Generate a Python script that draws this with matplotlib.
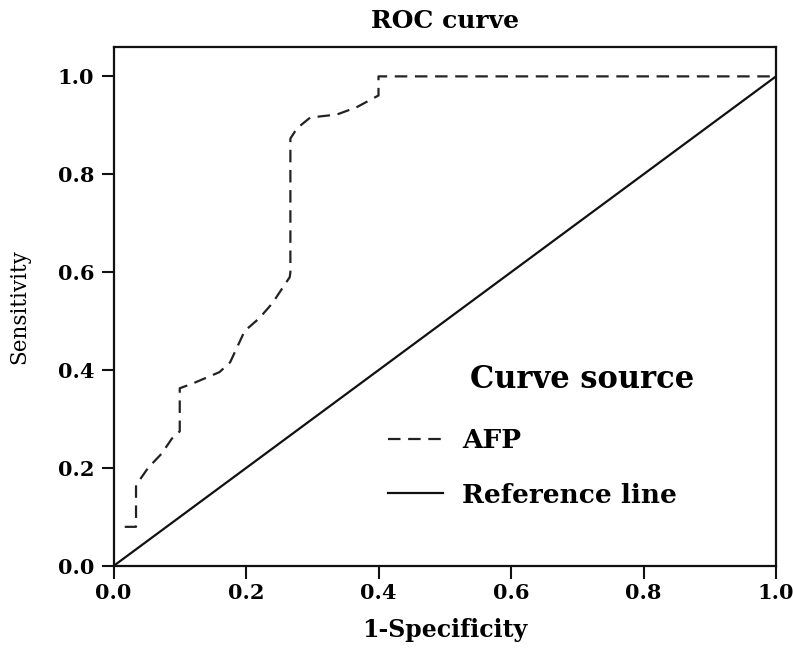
import matplotlib
matplotlib.use("Agg")
import matplotlib.pyplot as plt

# Data
afp_x = [0.017, 0.034, 0.034, 0.052, 0.073, 0.088, 0.100, 0.100, 0.120, 0.160, 0.176,
         0.198, 0.220, 0.240, 0.266, 0.267, 0.267, 0.277, 0.297, 0.337, 0.367, 0.400, 0.400, 1.000]
afp_y = [0.080, 0.080, 0.165, 0.200, 0.230, 0.260, 0.275, 0.363, 0.373, 0.396, 0.416,
         0.480, 0.506, 0.537, 0.590, 0.600, 0.873, 0.894, 0.916, 0.922, 0.937, 0.961, 1.000, 1.000]
ref_x = [0.0, 1.0]
ref_y = [0.0, 1.0]
ticks = [0.0, 0.2, 0.4, 0.6, 0.8, 1.0]
tick_labels = ["0.0", "0.2", "0.4", "0.6", "0.8", "1.0"]

plt.rcParams['lines.scale_dashes'] = False
serif = ['DejaVu Serif']

fig = plt.figure(figsize=(7.93, 6.48), dpi=100)
ax = fig.add_axes([113.5/793, 1-566/648, (776-113.5)/793, (566-47)/648])

l_afp, = ax.plot(afp_x, afp_y, color='#222222', lw=1.6, dashes=(9, 5.5), label='AFP')
l_ref, = ax.plot(ref_x, ref_y, color='#111111', lw=1.6, label='Reference line')

ax.set_xlim(0, 1)
ax.set_ylim(0, 1.06)
ax.set_xticks(ticks)
ax.set_xticklabels(tick_labels)
ax.set_yticks(ticks)
ax.set_yticklabels(tick_labels)
for s in ax.spines.values():
    s.set_linewidth(1.6)
    s.set_color('#111111')
ax.tick_params(direction='out', length=9, width=1.5, color='#111111', pad=3)
ax.tick_params(axis='y', pad=5)
for lab in ax.get_xticklabels() + ax.get_yticklabels():
    lab.set_fontfamily(serif)
    lab.set_fontweight('bold')
    lab.set_fontsize(15)

ax.set_title("ROC curve", fontfamily=serif, fontweight='bold', fontsize=18, pad=14)
ax.set_xlabel("1-Specificity", fontfamily=serif, fontweight='bold', fontsize=17, labelpad=11)
ax.set_ylabel("Sensitivity", fontfamily=serif, fontsize=15.5, labelpad=20)

ax.text((470-113.5)/662.5, (566-380)/519, "Curve source", transform=ax.transAxes,
        fontfamily=serif, fontweight='bold', fontsize=22, va='center', ha='left')
leg = ax.legend(handles=[l_afp, l_ref], loc='upper left',
                bbox_to_anchor=((388-113.5)/662.5, (566-428)/519),
                frameon=False, prop={'family': serif, 'weight': 'bold', 'size': 19},
                handlelength=2.1, handletextpad=0.7, labelspacing=1.12, borderpad=0, borderaxespad=0)

fig.savefig("out.png", dpi=100)
